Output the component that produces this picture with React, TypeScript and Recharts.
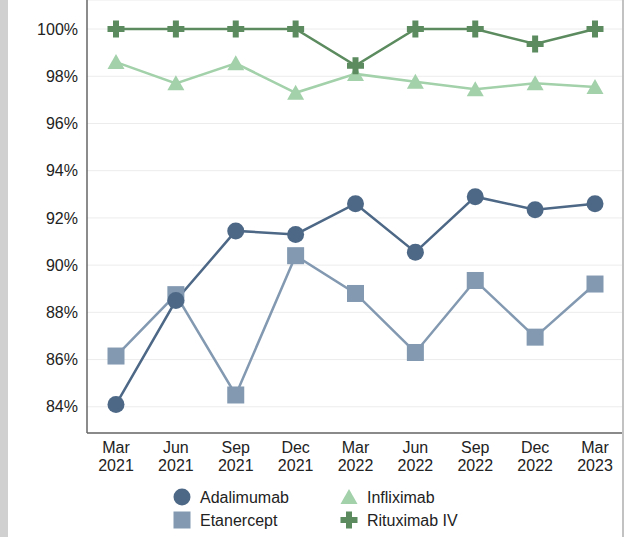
import React from 'react';
import { LineChart, Line, XAxis, YAxis, CartesianGrid, Legend } from 'recharts';

const categories = ['Mar 2021', 'Jun 2021', 'Sep 2021', 'Dec 2021', 'Mar 2022', 'Jun 2022', 'Sep 2022', 'Dec 2022', 'Mar 2023'];
const adalimumab = [84.1, 88.5, 91.45, 91.3, 92.6, 90.55, 92.9, 92.35, 92.6];
const etanercept = [86.15, 88.75, 84.5, 90.4, 88.8, 86.3, 89.35, 86.95, 89.2];
const infliximab = [98.6, 97.7, 98.55, 97.3, 98.1, 97.77, 97.45, 97.7, 97.55];
const rituximab = [100, 100, 100, 100, 98.45, 100, 100, 99.37, 100];
const yTicks = [84, 86, 88, 90, 92, 94, 96, 98, 100];

const data = categories.map((c, i) => ({
  period: c,
  Adalimumab: adalimumab[i],
  Etanercept: etanercept[i],
  Infliximab: infliximab[i],
  'Rituximab IV': rituximab[i],
}));

const C_ADA = '#4d6886';
const C_ETA = '#8299b1';
const C_INF = '#a2d1aa';
const C_RIT = '#5b8b5e';

const shapeFor = (name: string, cx: number, cy: number, color: string, key?: any) => {
  if (name === 'Adalimumab') return <circle key={key} cx={cx} cy={cy} r={8.5} fill={color} />;
  if (name === 'Etanercept') return <rect key={key} x={cx - 8.5} y={cy - 8.5} width={17} height={17} fill={color} />;
  if (name === 'Infliximab')
    return <polygon key={key} points={`${cx},${cy - 8} ${cx - 8.5},${cy + 7} ${cx + 8.5},${cy + 7}`} fill={color} />;
  const a = 8.5, t = 3;
  return (
    <path
      key={key}
      d={`M${cx - t},${cy - a}H${cx + t}V${cy - t}H${cx + a}V${cy + t}H${cx + t}V${cy + a}H${cx - t}V${cy + t}H${cx - a}V${cy - t}H${cx - t}Z`}
      fill={color}
    />
  );
};

const makeDot = (name: string, color: string) => (props: any) => {
  const { cx, cy, index } = props;
  if (cx == null || cy == null) return <g key={`${name}-${index}`} />;
  return shapeFor(name, cx, cy, color, `${name}-${index}`);
};

const XTick = (props: any) => {
  const { x, y, payload } = props;
  const [m, yr] = String(payload.value).split(' ');
  return (
    <g>
      <text x={x} y={y + 20} textAnchor="middle" fill="#222" fontSize={16}>{m}</text>
      <text x={x} y={y + 38} textAnchor="middle" fill="#222" fontSize={16}>{yr}</text>
    </g>
  );
};

const legendItems = [
  { name: 'Adalimumab', color: C_ADA, x: 182, y: 12 },
  { name: 'Infliximab', color: C_INF, x: 349, y: 12 },
  { name: 'Etanercept', color: C_ETA, x: 182, y: 35 },
  { name: 'Rituximab IV', color: C_RIT, x: 349, y: 35 },
];

const LegendContent = () => (
  <svg width={624} height={50} style={{ display: 'block' }}>
    {legendItems.map((it) => (
      <g key={it.name}>
        {shapeFor(it.name, it.x, it.y, it.color)}
        <text x={it.x + 18} y={it.y} dy="0.355em" fontSize={16} fill="#222">{it.name}</text>
      </g>
    ))}
  </svg>
);

export default function App() {
  return (
    <div style={{ position: 'absolute', left: 0, top: 0, width: 624, height: 537, background: '#fff' }}>
      <div style={{ position: 'absolute', left: 0, top: 0, width: 8, height: 537, background: '#d0d0d0' }} />
      <div style={{ position: 'absolute', left: 622, top: 0, width: 1.5, height: 537, background: '#c2c2c2' }} />
      <LineChart
        width={624}
        height={537}
        data={data}
        margin={{ top: 0, right: 2, left: 0, bottom: 0 }}
        style={{ fontFamily: '"Liberation Sans", Arial, sans-serif' }}
      >
        <CartesianGrid vertical={false} stroke="#ececec" strokeWidth={1} />
        <XAxis
          dataKey="period"
          type="category"
          height={104}
          padding={{ left: 29, right: 27 }}
          tickLine={false}
          tickSize={0}
          tickMargin={0}
          axisLine={{ stroke: '#666', strokeWidth: 1.5 }}
          tick={<XTick />}
          interval={0}
        />
        <YAxis
          type="number"
          width={87}
          domain={[82.89, 101.23]}
          ticks={yTicks}
          allowDataOverflow
          tickFormatter={(v: number) => `${v}%`}
          tickLine={false}
          tickSize={6}
          tickMargin={3}
          axisLine={{ stroke: '#666', strokeWidth: 1.5 }}
          tick={{ fill: '#222', fontSize: 16 }}
        />
        <Line dataKey="Etanercept" stroke={C_ETA} strokeWidth={2.5} dot={makeDot('Etanercept', C_ETA)} activeDot={false} isAnimationActive={false} />
        <Line dataKey="Adalimumab" stroke={C_ADA} strokeWidth={2.5} dot={makeDot('Adalimumab', C_ADA)} activeDot={false} isAnimationActive={false} />
        <Line dataKey="Infliximab" stroke={C_INF} strokeWidth={2.5} dot={makeDot('Infliximab', C_INF)} activeDot={false} isAnimationActive={false} />
        <Line dataKey="Rituximab IV" stroke={C_RIT} strokeWidth={2.5} dot={makeDot('Rituximab IV', C_RIT)} activeDot={false} isAnimationActive={false} />
        <Legend
          layout="horizontal"
          verticalAlign="middle"
          align="center"
          wrapperStyle={{ top: 485, left: 0, width: 624, height: 50 }}
          content={<LegendContent />}
        />
      </LineChart>
    </div>
  );
}
